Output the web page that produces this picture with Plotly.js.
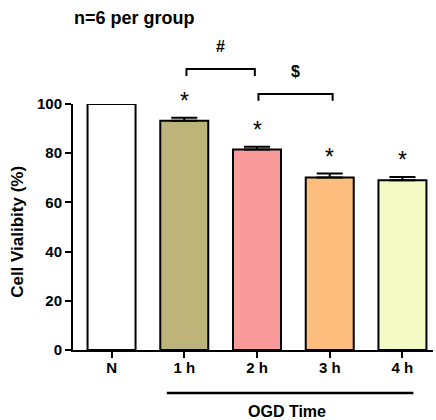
<!DOCTYPE html>
<html>
<head>
<meta charset="utf-8">
<script src="https://cdn.plot.ly/plotly-3.0.1.min.js"></script>
<style>html,body{margin:0;padding:0;background:#fff;}#chart{width:436px;height:420px;}</style>
</head>
<body>
<div id="chart"></div>
<script>
// ---- data ----
const categories = ["N", "1 h", "2 h", "3 h", "4 h"];
const viability = [100, 93.2, 81.5, 70.1, 69.0];
const sem = [0, 1.2, 1.1, 1.6, 1.3];
const barColors = ["#ffffff", "#bdb47a", "#fa9b9b", "#fdbe7d", "#f3fac3"];
const starFlags = ["", "*", "*", "*", "*"];
const yTicks = [0, 20, 40, 60, 80, 100];

const FONT = "Liberation Sans, Arial, Helvetica, sans-serif";
const Y_RANGE = [0, 100];
const toPaper = v => (v - Y_RANGE[0]) / (Y_RANGE[1] - Y_RANGE[0]);

const trace = {
  type: "bar",
  x: categories,
  y: viability,
  marker: { color: barColors, line: { color: "#000", width: 2 } },
  error_y: { type: "data", symmetric: false, array: sem, arrayminus: sem.map(() => 0),
             color: "#000", thickness: 2, width: 13, visible: true },
  hoverinfo: "none",
  cliponaxis: false
};

const annotations = [];
categories.forEach((c, i) => {
  if (starFlags[i]) {
    annotations.push({ xref: "x", yref: "paper", x: c, y: toPaper(viability[i] + sem[i]),
      text: starFlags[i], showarrow: false, yanchor: "bottom", yshift: 2,
      font: { family: FONT, size: 23, color: "#000" } });
  }
});

// comparison brackets (between category positions)
const brackets = [
  { x0: 1.03, x1: 1.97, top: 114.2, leg: 2.8, label: "#" },
  { x0: 2.02, x1: 3.04, top: 104.1, leg: 2.8, label: "$" }
];
const shapes = [];
brackets.forEach(b => {
  shapes.push({ type: "path", xref: "x", yref: "paper",
    path: `M ${b.x0} ${toPaper(b.top - b.leg)} L ${b.x0} ${toPaper(b.top)} L ${b.x1} ${toPaper(b.top)} L ${b.x1} ${toPaper(b.top - b.leg)}`,
    line: { color: "#000", width: 2 } });
  annotations.push({ xref: "x", yref: "paper", x: (b.x0 + b.x1) / 2, y: toPaper(b.top + 9),
    text: b.label, showarrow: false, yanchor: "middle",
    font: { family: FONT, size: 16, color: "#000", weight: "bold" } });
});

// OGD Time group line
shapes.push({ type: "line", xref: "x", yref: "paper", x0: 0.76, x1: 4.15, y0: -0.175, y1: -0.175,
  line: { color: "#000", width: 2.5 } });
annotations.push({ xref: "x", yref: "paper", x: 2.41, y: -0.252, text: "OGD Time",
  showarrow: false, yanchor: "middle",
  font: { family: FONT, size: 16, color: "#000", weight: "bold" } });

// y axis title
annotations.push({ xref: "paper", yref: "paper", x: -0.153, y: 0.48, text: "Cell Vialibity (%)",
  textangle: -90, showarrow: false, xanchor: "center", yanchor: "middle",
  font: { family: FONT, size: 17, color: "#000", weight: "bold" } });

const layout = {
  width: 436, height: 420,
  margin: { l: 73, r: 3, t: 104, b: 70, pad: 0 },
  paper_bgcolor: "#fff", plot_bgcolor: "#fff",
  showlegend: false,
  bargap: 0.34,
  title: { text: "n=6 per group", xref: "container", yref: "container", x: 74 / 436, xanchor: "left",
           y: 1 - 18 / 420, yanchor: "middle",
           font: { family: FONT, size: 18, color: "#000", weight: "bold" } },
  xaxis: {
    type: "category", range: [-0.53, 4.42],
    showline: true, linecolor: "#000", linewidth: 2,
    ticks: "outside", ticklen: 6, tickwidth: 2, tickcolor: "#000",
    ticklabelstandoff: -3,
    showgrid: false, zeroline: false,
    tickfont: { family: FONT, size: 15, color: "#000", weight: "bold" }
  },
  yaxis: {
    range: Y_RANGE, tickvals: yTicks, ticktext: yTicks.map(String),
    showline: true, linecolor: "#000", linewidth: 2,
    ticks: "outside", ticklen: 6, tickwidth: 2, tickcolor: "#000",
    showgrid: false, zeroline: false,
    tickfont: { family: FONT, size: 15, color: "#000", weight: "bold" }
  },
  shapes: shapes,
  annotations: annotations
};

Plotly.newPlot("chart", [trace], layout, { staticPlot: true, displayModeBar: false });
</script>
</body>
</html>
